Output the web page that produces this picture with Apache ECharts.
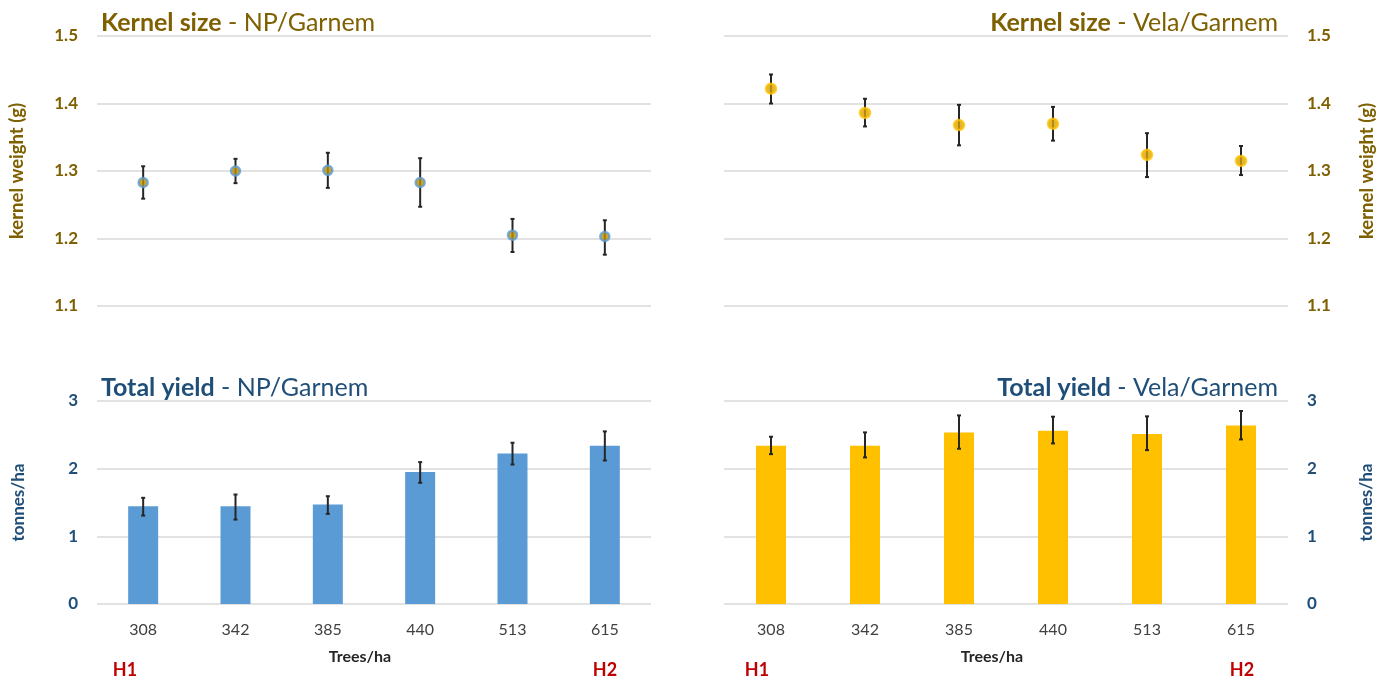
<!DOCTYPE html>
<html>
<head>
<meta charset="utf-8">
<script src="https://cdn.jsdelivr.net/npm/echarts@6/dist/echarts.min.js"></script>
<style>
  html, body { margin: 0; padding: 0; background: #fff; }
  #chart { width: 1389px; height: 682px; }
</style>
</head>
<body>
<div id="chart"></div>
<script>
// Planting densities (trees per hectare)
const categories = ['308', '342', '385', '440', '513', '615'];

// Kernel weight (g) with error-bar bounds
const npKernel = [1.283, 1.300, 1.301, 1.283, 1.205, 1.203];
const npKernelLow = [1.259, 1.282, 1.275, 1.247, 1.180, 1.176];
const npKernelHigh = [1.307, 1.318, 1.327, 1.319, 1.229, 1.227];
const velaKernel = [1.422, 1.386, 1.368, 1.370, 1.324, 1.315];
const velaKernelLow = [1.400, 1.366, 1.338, 1.345, 1.291, 1.294];
const velaKernelHigh = [1.443, 1.407, 1.398, 1.395, 1.356, 1.337];

// Total yield (tonnes/ha) with error-bar bounds
const npYield = [1.445, 1.445, 1.470, 1.949, 2.225, 2.338];
const npYieldLow = [1.307, 1.248, 1.332, 1.791, 2.062, 2.121];
const npYieldHigh = [1.569, 1.618, 1.593, 2.097, 2.383, 2.551];
const velaYield = [2.338, 2.338, 2.536, 2.560, 2.511, 2.639];
const velaYieldLow = [2.215, 2.166, 2.294, 2.373, 2.274, 2.432];
const velaYieldHigh = [2.472, 2.536, 2.787, 2.768, 2.773, 2.852];

const kernelTicks = { min: 1.1, max: 1.5, interval: 0.1 };
const yieldTicks = { min: 0, max: 3, interval: 1 };

const FONT = 'Lato';
const GOLD = '#7F6000';
const NAVY = '#1F4E79';
const BLUE = '#5B9BD5';
const AMBER = '#FFC000';
const RED = '#C00000';

const chart = echarts.init(document.getElementById('chart'));

function errorData(low, high) {
  return categories.map((c, i) => [i, low[i], high[i]]);
}

// Vertical error bar with small caps, drawn in axis coordinates
function errorBars(xi, yi, low, high) {
  return {
    type: 'custom',
    xAxisIndex: xi,
    yAxisIndex: yi,
    z: 3,
    silent: true,
    data: errorData(low, high),
    renderItem: function (params, api) {
      const i = api.value(0);
      const top = api.coord([i, api.value(2)]);
      const bot = api.coord([i, api.value(1)]);
      const cap = 2;
      const st = { stroke: '#262626', lineWidth: 2 };
      return {
        type: 'group',
        children: [
          { type: 'line', shape: { x1: top[0], y1: top[1], x2: bot[0], y2: bot[1] }, style: st },
          { type: 'line', shape: { x1: top[0] - cap, y1: top[1], x2: top[0] + cap, y2: top[1] }, style: st },
          { type: 'line', shape: { x1: bot[0] - cap, y1: bot[1], x2: bot[0] + cap, y2: bot[1] }, style: st }
        ]
      };
    }
  };
}

function titleText(bold, rest, color) {
  return {
    text: '{b|' + bold + '}{r| - ' + rest + '}',
    textStyle: {
      rich: {
        b: { fontFamily: FONT, fontSize: 25, fontWeight: 'bold', color: color },
        r: { fontFamily: FONT, fontSize: 25, fontWeight: 'normal', color: color }
      }
    }
  };
}

const gridLine = { show: true, lineStyle: { color: '#D9D9D9', width: 1.5 } };

function catAxis(gi, showLabels) {
  return {
    type: 'category',
    gridIndex: gi,
    data: categories,
    boundaryGap: true,
    axisLine: { show: false },
    axisTick: { show: false },
    axisLabel: {
      show: showLabels,
      margin: 18,
      fontFamily: FONT,
      fontSize: 16,
      color: '#404040'
    }
  };
}

function valAxis(gi, ticks, position, color, name, digits, nameSize) {
  return {
    type: 'value',
    gridIndex: gi,
    position: position,
    min: ticks.min,
    max: ticks.max,
    interval: ticks.interval,
    splitLine: gridLine,
    axisLine: { show: false },
    axisTick: { show: false },
    axisLabel: {
      margin: 19,
      fontFamily: FONT,
      fontSize: 17,
      fontWeight: 'bold',
      color: color,
      formatter: v => v.toFixed(digits)
    },
    name: name,
    nameLocation: 'middle',
    nameRotate: 90,
    nameGap: 70,
    nameTextStyle: { fontFamily: FONT, fontSize: nameSize, fontWeight: 'bold', color: color }
  };
}

const treesLabel = { text: 'Trees/ha', fontFamily: FONT, fontSize: 16, fontWeight: 'bold', fill: '#262626', align: 'center', verticalAlign: 'middle' };
const hLabel = { fontFamily: FONT, fontSize: 18, fontWeight: 'bold', fill: RED, align: 'center', verticalAlign: 'middle' };

const option = {
  backgroundColor: '#ffffff',
  animation: false,
  title: [
    Object.assign({ left: 96, top: 5 }, titleText('Kernel size', 'NP/Garnem', GOLD)),
    Object.assign({ right: 106, top: 5 }, titleText('Kernel size', 'Vela/Garnem', GOLD)),
    Object.assign({ left: 96, top: 370 }, titleText('Total yield', 'NP/Garnem', NAVY)),
    Object.assign({ right: 106, top: 370 }, titleText('Total yield', 'Vela/Garnem', NAVY))
  ],
  grid: [
    { left: 97, top: 36, width: 554, height: 270 },
    { left: 724, top: 36, width: 564, height: 270 },
    { left: 97, top: 401, width: 554, height: 203 },
    { left: 724, top: 401, width: 564, height: 203 }
  ],
  xAxis: [
    catAxis(0, false),
    catAxis(1, false),
    catAxis(2, true),
    catAxis(3, true)
  ],
  yAxis: [
    valAxis(0, kernelTicks, 'left', GOLD, 'kernel weight (g)', 1, 18.5),
    valAxis(1, kernelTicks, 'right', GOLD, 'kernel weight (g)', 1, 18.5),
    valAxis(2, yieldTicks, 'left', NAVY, 'tonnes/ha', 0, 17),
    valAxis(3, yieldTicks, 'right', NAVY, 'tonnes/ha', 0, 17)
  ],
  series: [
    errorBars(0, 0, npKernelLow, npKernelHigh),
    {
      type: 'scatter', xAxisIndex: 0, yAxisIndex: 0, z: 4,
      data: npKernel, symbol: 'circle', symbolSize: 9,
      itemStyle: { color: '#BF9000', borderColor: BLUE, borderWidth: 2.5 }
    },
    errorBars(1, 1, velaKernelLow, velaKernelHigh),
    {
      type: 'scatter', xAxisIndex: 1, yAxisIndex: 1, z: 4,
      data: velaKernel, symbol: 'circle', symbolSize: 10,
      itemStyle: { color: '#D9A400', borderColor: AMBER, borderWidth: 2.5 }
    },
    {
      type: 'bar', xAxisIndex: 2, yAxisIndex: 2, z: 2,
      data: npYield, barWidth: 30,
      itemStyle: { color: BLUE }
    },
    errorBars(2, 2, npYieldLow, npYieldHigh),
    {
      type: 'bar', xAxisIndex: 3, yAxisIndex: 3, z: 2,
      data: velaYield, barWidth: 30,
      itemStyle: { color: AMBER }
    },
    errorBars(3, 3, velaYieldLow, velaYieldHigh)
  ],
  graphic: [
    { type: 'text', x: 360, y: 657, style: treesLabel },
    { type: 'text', x: 992, y: 657, style: treesLabel },
    { type: 'text', x: 125, y: 670, style: Object.assign({ text: 'H1' }, hLabel) },
    { type: 'text', x: 605, y: 670, style: Object.assign({ text: 'H2' }, hLabel) },
    { type: 'text', x: 757, y: 670, style: Object.assign({ text: 'H1' }, hLabel) },
    { type: 'text', x: 1242, y: 670, style: Object.assign({ text: 'H2' }, hLabel) }
  ]
};

chart.setOption(option);
</script>
</body>
</html>
